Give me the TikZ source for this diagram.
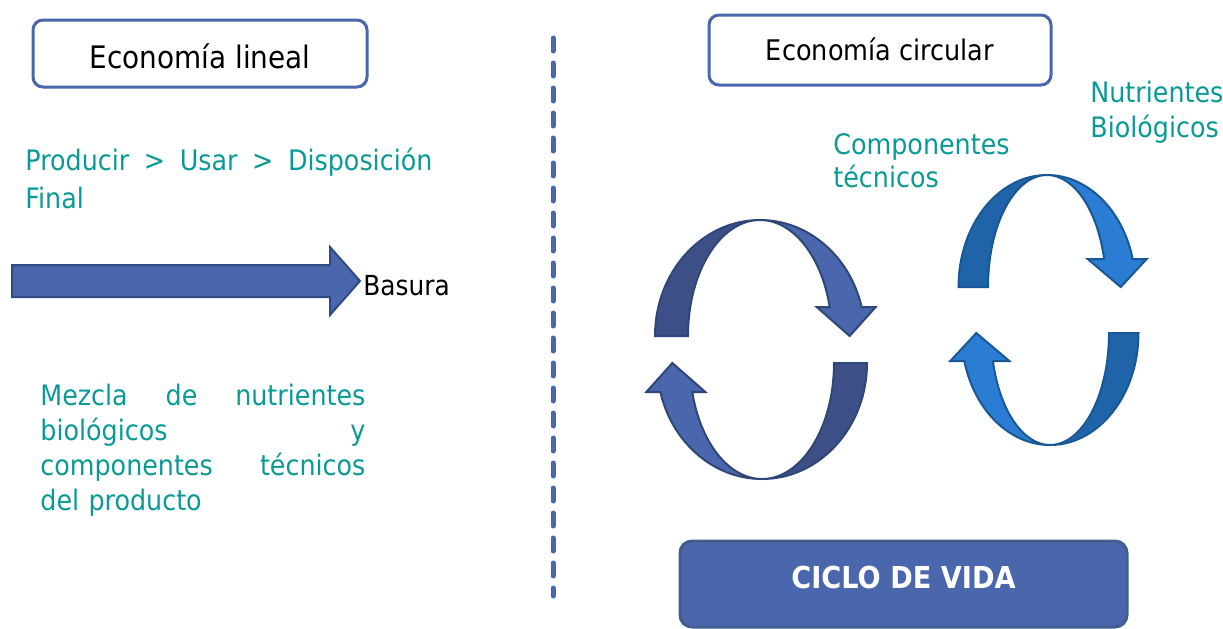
\documentclass[tikz,border=0pt]{standalone}
\usepackage{fontspec}
\setmainfont{DejaVu Sans}[FakeStretch=0.9]

\definecolor{azulmarco}{HTML}{4A66AC}
\definecolor{azulrelleno}{HTML}{4A67AD}
\definecolor{azulborde}{HTML}{2F4B85}
\definecolor{verdeazul}{HTML}{0A9A96}
\definecolor{tecosc}{HTML}{3C5087}
\definecolor{teccla}{HTML}{4A67AD}
\definecolor{teclin}{HTML}{2F4678}
\definecolor{bioosc}{HTML}{1F63A8}
\definecolor{biocla}{HTML}{2A7DD2}
\definecolor{biolin}{HTML}{185896}

% media vuelta del ciclo: #1 radio ext., #2 radio int., #3 radio vertical, #4 altura de la punta
\newcommand{\mediociclo}[4]{%
  \filldraw[parte oscura] (180:#1 and #3) arc[start angle=180, end angle=90, x radius=#1, y radius=#3]
    -- (90:#2 and #3) arc[start angle=90, end angle=180, x radius=#2, y radius=#3] -- cycle;
  \filldraw[parte clara] (90:#1 and #3) arc[start angle=90, end angle={asin(#4/#3)}, x radius=#1, y radius=#3]
    -- ++(14,0) -- ++(-26,-#4) -- ++(-33,#4)
    -- ({asin(#4/#3)}:#2 and #3) arc[start angle={asin(#4/#3)}, end angle=90, x radius=#2, y radius=#3] -- cycle;
}

\begin{document}
\begin{tikzpicture}[x=0.5pt, y=0.5pt,
    caja titulo/.style={draw=azulmarco, line width=1.5pt, rounded corners=5pt, fill=white},
    texto verde/.style={color=verdeazul, inner sep=0pt, align=left,
      font=\fontsize{14.1pt}{17.5pt}\selectfont},
    ciclo tecnico/.style={line width=1pt,
      parte oscura/.style={fill=tecosc, draw=teclin},
      parte clara/.style={fill=teccla, draw=teclin}},
    ciclo biologico/.style={line width=1pt,
      parte oscura/.style={fill=bioosc, draw=biolin},
      parte clara/.style={fill=biocla, draw=biolin}}]
  \useasboundingbox (0,0) rectangle (1223,-628);

  % lado izquierdo
  \node[caja titulo, minimum width=167pt, minimum height=33.5pt, text height=14.5pt, text depth=0pt,
    font=\fontsize{15.5pt}{18pt}\selectfont] (lineal) at (200,-53.5) {Economía lineal};
  \node[texto verde, anchor=base west, text width=203.5pt, font=\fontsize{14.1pt}{19pt}\selectfont]
    (pasos) at (25,-170) {Producir\hfill >\hfill Usar\hfill >\hfill Disposición\\Final};
  \filldraw[fill=azulrelleno, draw=azulborde, line width=1pt]
    (12,-265) -- (330,-265) -- (330,-247) -- (360,-281) -- (330,-315) -- (330,-297) -- (12,-297) -- cycle;
  \node[anchor=base west, inner sep=0pt, font=\fontsize{13.8pt}{16pt}\selectfont] (basura) at (363,-295) {Basura};
  \node[texto verde, anchor=base west, text width=162.5pt] (mezcla) at (40,-405)
    {Mezcla\hfill de\hfill nutrientes\\ biológicos\hfill y\\ componentes\hfill técnicos\\ del producto};

  % separador
  \coordinate (sep arriba) at (553,-38);
  \coordinate (sep abajo) at (553,-596);
  \draw[azulrelleno, line width=2.5pt, line cap=round, dash pattern=on 6.5pt off 6pt] (sep arriba) -- (sep abajo);

  % lado derecho
  \node[caja titulo, minimum width=171pt, minimum height=35pt, text height=10pt, text depth=0pt,
    font=\fontsize{14.2pt}{17pt}\selectfont] (circular) at (880,-50) {Economía circular};
  \node[texto verde, anchor=base west, text width=70pt] (nutrientes) at (1090,-102) {Nutrientes\\Biológicos};
  \node[texto verde, anchor=base west, text width=95pt, font=\fontsize{14.1pt}{16.5pt}\selectfont]
    (componentes) at (833,-154) {Componentes\\técnicos};

  \begin{scope}[ciclo tecnico, shift={(760,-336)}]
    \mediociclo{105}{72}{116}{29}
  \end{scope}
  \begin{scope}[ciclo tecnico, shift={(762,-363)}, rotate=180]
    \mediociclo{105}{72}{116}{29}
  \end{scope}
  \begin{scope}[ciclo biologico, shift={(1047,-287)}]
    \mediociclo{88.5}{59}{112}{28}
  \end{scope}
  \begin{scope}[ciclo biologico, shift={(1050,-333)}, rotate=180]
    \mediociclo{88.5}{59}{112}{28}
  \end{scope}

  \node[fill=azulrelleno, draw=azulborde!90, line width=1.5pt, rounded corners=6pt,
    minimum width=223.5pt, minimum height=43pt, text height=11pt, text depth=7pt, text=white,
    font=\fontsize{15.1pt}{18pt}\selectfont\bfseries] (vida) at (903.5,-584) {CICLO DE VIDA};
\end{tikzpicture}
\end{document}
